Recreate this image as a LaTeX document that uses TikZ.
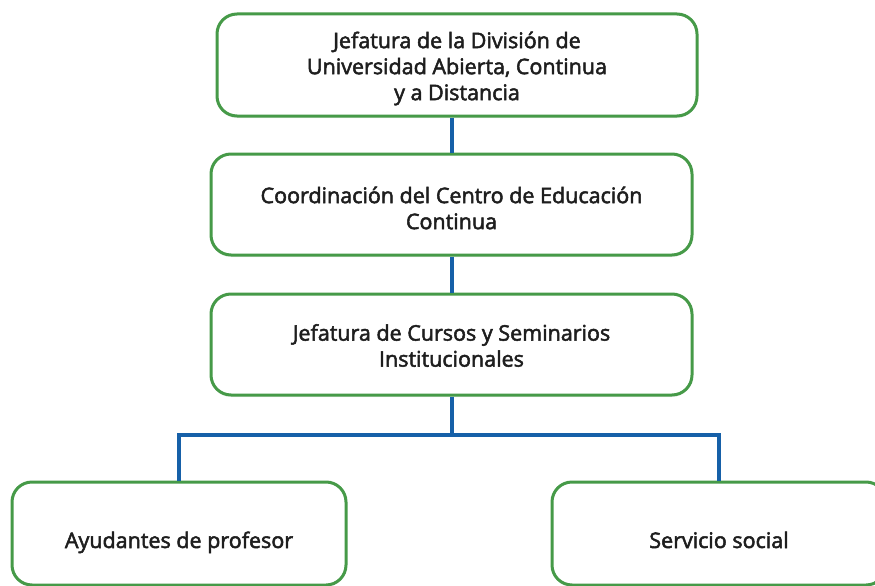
\documentclass[tikz,border=0pt]{standalone}
\usepackage{fontspec}
\setmainfont{Open Sans}
\usetikzlibrary{shadows}
\definecolor{boxgreen}{RGB}{70,154,72}
\definecolor{lineblue}{RGB}{22,96,168}
\definecolor{txt}{RGB}{30,30,30}
\newcommand{\medwt}{\special{pdf:literal direct 2 Tr 0.5 w}}
\newcommand{\normwt}{\special{pdf:literal direct 0 Tr}}
\begin{document}
\begin{tikzpicture}[x=1pt,y=-1pt,
  orgbox/.style={draw=boxgreen, line width=3pt, fill=white, rounded corners=20pt,
    inner sep=0pt,
    drop shadow={opacity=0.12, shadow xshift=0pt, shadow yshift=-2pt}},
  lbl/.style={align=center, text=txt, inner sep=0pt,
    font=\fontsize{21.5}{26}\selectfont},
  onelbl/.style={lbl, text height=16pt, text depth=5pt},
  conn/.style={draw=lineblue, line width=4pt}]
\useasboundingbox (0,0) rectangle (875,586);
\begin{scope}
\clip (0,0) rectangle (875,586);
\node[orgbox, minimum width=480pt, minimum height=102pt] (b1) at (457,65) {};
\node[orgbox, minimum width=481pt, minimum height=101pt] (b2) at (451.5,204.5) {};
\node[orgbox, minimum width=481pt, minimum height=101pt] (b3) at (451.5,344.5) {};
\node[orgbox, minimum width=334pt, minimum height=103pt] (b4) at (179,533.5) {};
\node[orgbox, minimum width=334pt, minimum height=103pt] (b5) at (719,533.5) {};
\node[lbl] (t1) at ([yshift=-3.5pt]b1.center)
  {\medwt Jefatura de la División de\\\medwt Universidad Abierta, Continua\\\medwt y a Distancia\normwt};
\node[lbl] (t2) at ([yshift=-3.5pt]b2.center)
  {\medwt Coordinación del Centro de Educación\\\medwt Continua\normwt};
\node[lbl] (t3) at ([yshift=-1pt]b3.center)
  {\medwt Jefatura de Cursos y Seminarios\\\medwt Institucionales\normwt};
\node[onelbl] (t4) at ([yshift=-9pt]b4.center) {\medwt Ayudantes de profesor\normwt};
\node[onelbl] (t5) at ([yshift=-9pt]b5.center) {\medwt Servicio social\normwt};
\coordinate (j) at (452,435);
\draw[conn] (b1.south -| j) -- (b2.north -| j);
\draw[conn] (b2.south -| j) -- (b3.north -| j);
\draw[conn] (b3.south -| j) -- (j);
\draw[conn] (b4.north) |- (j) -| (b5.north);
\end{scope}
\end{tikzpicture}
\end{document}
